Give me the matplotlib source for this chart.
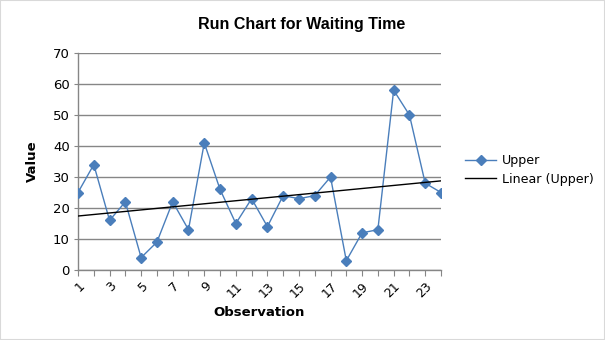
import matplotlib
matplotlib.use("Agg")
import matplotlib.pyplot as plt
from matplotlib.patches import Rectangle
from matplotlib.lines import Line2D
import numpy as np

observations = list(range(1, 25))
upper = [25, 34, 16, 22, 4, 9, 22, 13, 41, 26, 15, 23, 14, 24, 23, 24, 30, 3, 12, 13, 58, 50, 28, 25]
tick_labels = [str(i) if i % 2 == 1 else "" for i in observations]

blue = "#4A7EBB"
grid_gray = "#868686"

fig = plt.figure(figsize=(6.05, 3.4), dpi=100)
fig.patch.set_facecolor("white")
fig.add_artist(Rectangle((0, 0), 1, 1, transform=fig.transFigure, fill=False,
                         edgecolor="#d9d9d9", linewidth=1.5))

W, H = 605, 340
left, right, top, bottom = 78, 441, 53, 270
ax = fig.add_axes([left / W, 1 - bottom / H, (right - left) / W, (bottom - top) / H])

x = np.array(observations)
y = np.array(upper)
ax.plot(x, y, color=blue, linewidth=1.0, marker="D", markersize=5,
        markerfacecolor=blue, markeredgecolor=blue, zorder=3)
coef = np.polyfit(x, y, 1)
ax.plot(x, np.polyval(coef, x), color="black", linewidth=1.0, zorder=4)

ax.set_xlim(1, 24)
ax.set_ylim(0, 70)
ax.set_yticks(range(0, 71, 10))
ax.set_xticks(observations)
ax.set_xticklabels(tick_labels, rotation=45, ha="right", rotation_mode="anchor",
                   fontsize=9)
ax.tick_params(axis="y", labelsize=9.5, length=3, color=grid_gray, pad=3)
ax.tick_params(axis="x", length=4, color=grid_gray, pad=3)
ax.yaxis.grid(True, color=grid_gray, linewidth=1.0)
ax.set_axisbelow(True)
for s in ["top", "right"]:
    ax.spines[s].set_visible(False)
for s in ["left", "bottom"]:
    ax.spines[s].set_color(grid_gray)
    ax.spines[s].set_linewidth(1.0)

ax.set_xlabel("Observation", fontsize=9.5, fontweight="bold", labelpad=4)
ax.set_ylabel("Value", fontsize=9.5, fontweight="bold", labelpad=10)

fig.text(302 / W, 1 - 25 / H, "Run Chart for Waiting Time", ha="center", va="center",
         fontsize=11.5, fontweight="bold", family="Liberation Sans")

handles = [Line2D([], [], color=blue, marker="D", markersize=5, linewidth=1.0),
           Line2D([], [], color="black", linewidth=1.0)]
fig.legend(handles, ["Upper", "Linear (Upper)"], loc="center left",
           bbox_to_anchor=(454 / W, 1 - 170 / H), frameon=False, fontsize=9.1,
           handlelength=2.4, handletextpad=0.5, labelspacing=0.45)

fig.savefig("out.png", dpi=100, facecolor="white")
